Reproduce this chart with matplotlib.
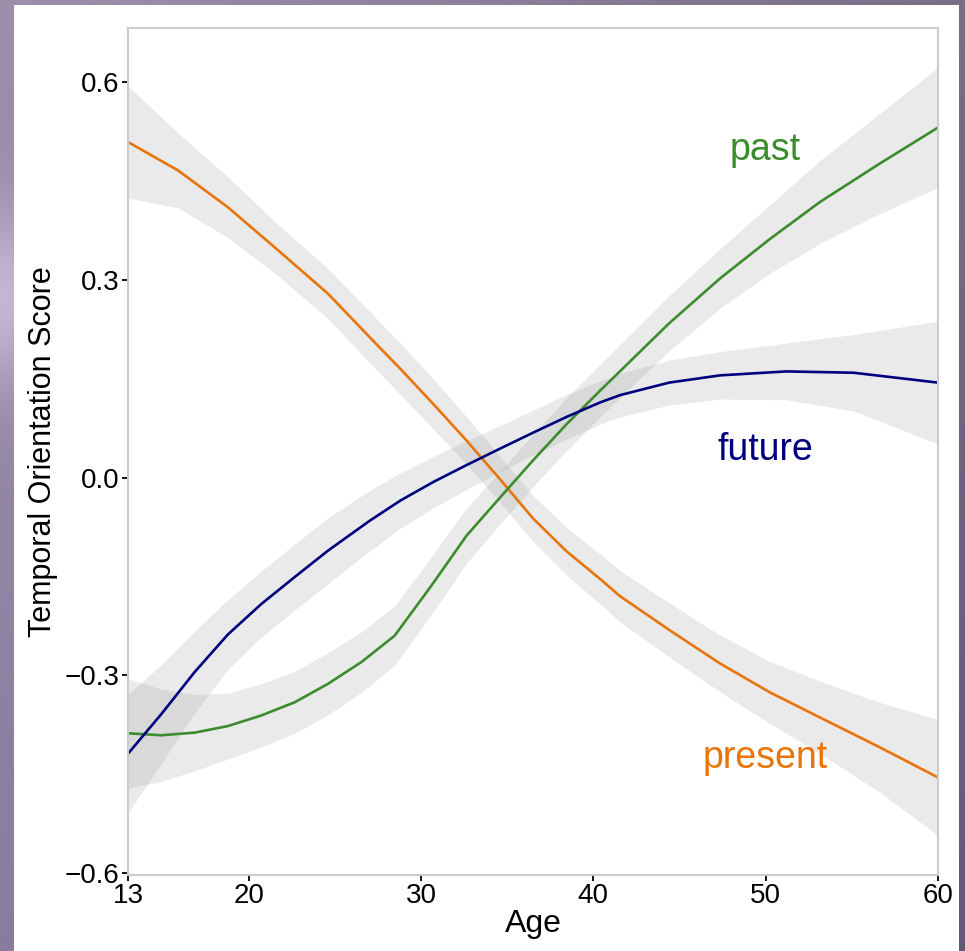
import numpy as np
import matplotlib
matplotlib.use('Agg')
import matplotlib.pyplot as plt
from matplotlib.patches import Rectangle

plt.rcParams['font.family'] = ['Liberation Sans', 'DejaVu Sans']

# present (orange)
present_age = [13.0, 15.9, 18.8, 21.7, 24.6, 27.5, 28.8, 30.7, 32.65, 34.6, 36.5, 38.45, 40.4, 41.55,
               44.45, 47.35, 50.25, 53.15, 56.6, 60.0]
present_val = [0.509, 0.466, 0.410, 0.345, 0.279, 0.200, 0.165, 0.112, 0.056, -0.003, -0.062, -0.112, -0.154, -0.180,
               -0.232, -0.282, -0.326, -0.364, -0.409, -0.455]
present_se = [0.085, 0.057, 0.046, 0.039, 0.038, 0.039, 0.039, 0.038, 0.036, 0.035, 0.035, 0.036, 0.038, 0.039,
              0.041, 0.043, 0.047, 0.055, 0.068, 0.088]

# past (green)
past_age = [13.0, 14.93, 16.87, 18.8, 20.73, 22.67, 24.6, 26.54, 28.47, 30.55, 32.65, 34.6, 36.5, 38.45, 40.4, 41.5,
            44.4, 47.35, 50.25, 53.15, 56.6, 60.0]
past_val = [-0.388, -0.391, -0.387, -0.377, -0.361, -0.341, -0.313, -0.280, -0.240, -0.166, -0.088, -0.030, 0.026, 0.081, 0.132, 0.160,
            0.234, 0.302, 0.362, 0.418, 0.476, 0.531]
past_se = [0.083, 0.070, 0.058, 0.050, 0.048, 0.047, 0.047, 0.046, 0.045, 0.044, 0.042, 0.040, 0.040, 0.040, 0.040, 0.040,
           0.042, 0.045, 0.052, 0.063, 0.076, 0.091]

# future (navy)
future_age = [13.0, 14.93, 16.87, 18.8, 20.73, 22.67, 24.6, 27.0, 28.8, 30.7, 32.65, 34.6, 36.5, 38.45, 40.4, 41.55,
              44.4, 47.35, 51.2, 55.1, 60.0]
future_val = [-0.419, -0.359, -0.295, -0.238, -0.192, -0.151, -0.111, -0.066, -0.035, -0.007, 0.019, 0.044, 0.068, 0.092, 0.114, 0.125,
              0.144, 0.155, 0.161, 0.159, 0.144]
future_se = [0.090, 0.075, 0.062, 0.053, 0.050, 0.050, 0.050, 0.046, 0.042, 0.039, 0.037, 0.035, 0.034, 0.034, 0.033, 0.033,
             0.034, 0.036, 0.043, 0.058, 0.093]

series = [
    ('present', present_age, present_val, present_se, '#E8750A', (50, -0.44)),
    ('past', past_age, past_val, past_se, '#3B8C2C', (50, 0.481)),
    ('future', future_age, future_val, future_se, '#00007F', (50, 0.027)),
]

xticks = [13, 20, 30, 40, 50, 60]
yticks = [-0.6, -0.3, 0.0, 0.3, 0.6]

W, H = 965, 951
fig = plt.figure(figsize=(W / 100, H / 100), dpi=100)

# purple slide background
bg = fig.add_axes([0, 0, 1, 1])
bg.axis('off')
yy, xx = np.mgrid[0:H, 0:W]
t = xx / W
left = np.array([158, 144, 172]) / 255
right = np.array([120, 110, 134]) / 255
img = left[None, None, :] * (1 - t[..., None]) + right[None, None, :] * t[..., None]
glow = np.exp(-((xx / 60.0) ** 2) - ((yy - 300) / 90.0) ** 2) * 0.18
img = img + glow[..., None] * np.array([1.0, 0.95, 1.0])
dark = (yy / H)[..., None] * np.array([0.08, 0.08, 0.06])
img = np.clip(img - dark, 0, 1)
bg.imshow(img, extent=(0, 1, 0, 1), aspect='auto')
bg.add_patch(Rectangle((14 / W, 0), (959 - 14) / W, (H - 5) / H,
                       transform=fig.transFigure, facecolor='white', edgecolor='none'))

ax = fig.add_axes([128 / W, (H - 875) / H, (938 - 128) / W, (875 - 28) / H])
ax.set_facecolor('white')

for name, a, v, se, col, pos in series:
    v = np.array(v)
    se = np.array(se)
    ax.fill_between(a, v - se, v + se, color='#999999', alpha=0.2, linewidth=0)
for name, a, v, se, col, pos in series:
    ax.plot(a, v, color=col, lw=1.9, solid_capstyle='butt', solid_joinstyle='round')
    ax.text(pos[0], pos[1], name, color=col, fontsize=27, ha='center', va='baseline')

ax.set_xlim(13, 60)
ax.set_ylim(-0.603, 0.682)
ax.set_xticks(xticks)
ax.set_xticklabels([str(x) for x in xticks])
ax.set_yticks(yticks)
ax.set_yticklabels([f'{y:.1f}'.replace('-', '\u2212') for y in yticks])
ax.tick_params(length=4.5, width=1.3, color='black', labelsize=20, pad=1.5)
for s in ax.spines.values():
    s.set_color('#CCCCCC')
    s.set_linewidth(1.5)

ax.set_xlabel('Age', fontsize=23, labelpad=0)
ax.set_ylabel('Temporal Orientation Score', fontsize=22, labelpad=5)

fig.savefig('out.png', dpi=100)
